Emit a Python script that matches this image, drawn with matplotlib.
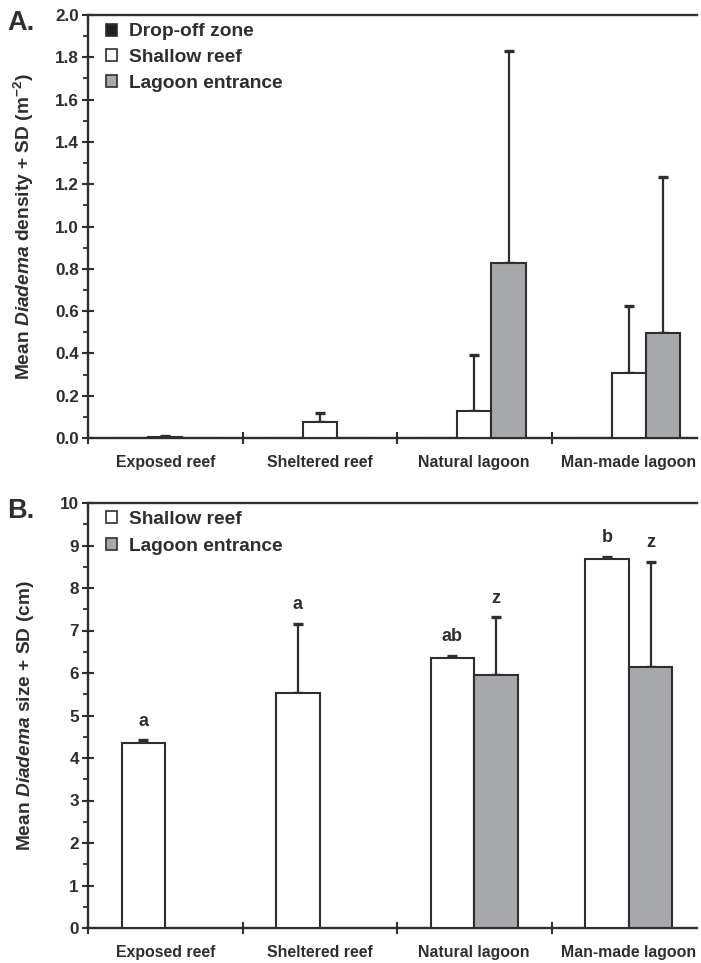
import numpy as np
import matplotlib
matplotlib.use("Agg")
import matplotlib.pyplot as plt
from matplotlib.patches import Patch

# ---------------- data ----------------
categories = ["Exposed reef", "Sheltered reef", "Natural lagoon", "Man-made lagoon"]

# Panel A: density (m^-2)
density_dropoff = [0.002, 0.0, 0.0, 0.002]
density_dropoff_sd = [0.0, 0.0, 0.0, 0.0]
density_shallow = [0.004, 0.077, 0.128, 0.306]
density_shallow_sd = [0.006, 0.040, 0.263, 0.318]
density_lagoon = [0.0, 0.0, 0.826, 0.495]
density_lagoon_sd = [0.0, 0.0, 1.005, 0.740]

# Panel B: size (cm)
size_shallow = [4.35, 5.53, 6.35, 8.69]
size_shallow_sd = [0.07, 1.63, 0.05, 0.05]
size_lagoon = [np.nan, np.nan, 5.96, 6.14]
size_lagoon_sd = [np.nan, np.nan, 1.35, 2.48]
sig_shallow = ["a", "a", "ab", "b"]
sig_lagoon = ["", "", "z", "z"]

# ---------------- style ----------------
plt.rcParams["font.family"] = ["Liberation Sans", "DejaVu Sans"]
plt.rcParams["font.weight"] = "bold"
plt.rcParams["mathtext.fontset"] = "custom"
plt.rcParams["mathtext.rm"] = "Liberation Sans:bold"
plt.rcParams["mathtext.it"] = "Liberation Sans:italic:bold"
plt.rcParams["mathtext.bf"] = "Liberation Sans:bold"

INK = "#2e2e2e"
GRAY = "#a7a8ab"
BLACK = "#231f20"
WHITE = "#ffffff"

W, H = 701, 963
fig = plt.figure(figsize=(W / 100, H / 100), dpi=100)
axA = fig.add_axes([88 / W, 1 - 438 / H, 609 / W, 423 / H])
axB = fig.add_axes([88 / W, 1 - 928 / H, 609 / W, 425 / H])

centers = np.arange(len(categories)) + 0.5
XMAX = 609 / 154.5


def style_axes(ax, ymax, major, minor, fmt):
    ax.set_xlim(0, XMAX)
    ax.set_ylim(0, ymax)
    for s in ["left", "bottom", "top"]:
        ax.spines[s].set_linewidth(1.7)
        ax.spines[s].set_color(INK)
    ax.spines["right"].set_visible(False)
    ax.set_yticks(np.arange(0, ymax + 1e-9, major))
    ax.set_yticks(np.arange(0, ymax + 1e-9, minor), minor=True)
    ax.set_yticklabels([fmt.format(v) for v in np.arange(0, ymax + 1e-9, major)])
    ax.tick_params(axis="y", which="major", direction="inout", length=9, width=1.5,
                   colors=INK, labelsize=12.3, pad=2)
    ax.tick_params(axis="y", which="minor", direction="out", length=3.5, width=1.3,
                   colors=INK)
    ax.set_xticks(np.arange(0, 4))
    ax.tick_params(axis="x", which="major", direction="inout", length=9, width=1.5,
                   colors=INK, labelbottom=False)
    ax.set_xticks(centers, categories, minor=True)
    ax.tick_params(axis="x", which="minor", length=0, pad=12.5, labelsize=11.4,
                   labelcolor=INK)


def draw_series(ax, xs, vals, sds, width, color):
    vals = np.asarray(vals, dtype=float)
    sds = np.asarray(sds, dtype=float)
    ok = ~np.isnan(vals)
    ax.bar(xs[ok], vals[ok], width=width, color=color, edgecolor=INK,
           linewidth=1.5, zorder=3)
    e = ok & ~np.isnan(sds) & (sds > 0)
    if e.any():
        ax.errorbar(xs[e], vals[e], yerr=[np.zeros(e.sum()), sds[e]], fmt="none",
                    ecolor=INK, elinewidth=1.6, capsize=3.3, capthick=2.4, zorder=2)


LEG_KW = dict(loc="upper left", frameon=False, fontsize=13.8, handlelength=0.58,
              handleheight=0.58, handletextpad=0.62, borderpad=0, borderaxespad=0)

# ---------------- Panel A ----------------
wA = 0.223
style_axes(axA, 2.0, 0.2, 0.1, "{:.1f}")
draw_series(axA, centers - wA, density_dropoff, density_dropoff_sd, wA, BLACK)
draw_series(axA, centers, density_shallow, density_shallow_sd, wA, WHITE)
draw_series(axA, centers + wA, density_lagoon, density_lagoon_sd, wA, GRAY)
axA.set_ylabel(r"Mean $\mathit{Diadema}$ density + SD (m$^{-2}$)", fontsize=13.8,
               color=INK, fontweight="bold")
axA.yaxis.set_label_coords(-0.085, 0.5)
hA = [Patch(facecolor=BLACK, edgecolor=INK, linewidth=1.2, label="Drop-off zone"),
      Patch(facecolor=WHITE, edgecolor=INK, linewidth=1.2, label="Shallow reef"),
      Patch(facecolor=GRAY, edgecolor=INK, linewidth=1.2, label="Lagoon entrance")]
legA = axA.legend(handles=hA, bbox_to_anchor=(0.03, 0.98), labelspacing=0.45, **LEG_KW)
for t in legA.get_texts():
    t.set_color(INK)

# ---------------- Panel B ----------------
wB = 0.282
style_axes(axB, 10, 1, 0.5, "{:.0f}")
draw_series(axB, centers - wB / 2, size_shallow, size_shallow_sd, wB, WHITE)
draw_series(axB, centers + wB / 2, size_lagoon, size_lagoon_sd, wB, GRAY)
for xs, vals, sds, sig in [(centers - wB / 2, size_shallow, size_shallow_sd, sig_shallow),
                           (centers + wB / 2, size_lagoon, size_lagoon_sd, sig_lagoon)]:
    for x, v, s, lab in zip(xs, vals, sds, sig):
        if lab and not np.isnan(v):
            axB.text(x, v + s + 0.45, lab, ha="center", va="center", fontsize=13,
                     fontweight="bold", color=INK)
axB.set_ylabel(r"Mean $\mathit{Diadema}$ size + SD (cm)", fontsize=13.8,
               color=INK, fontweight="bold")
axB.yaxis.set_label_coords(-0.085, 0.5)
hB = [Patch(facecolor=WHITE, edgecolor=INK, linewidth=1.2, label="Shallow reef"),
      Patch(facecolor=GRAY, edgecolor=INK, linewidth=1.2, label="Lagoon entrance")]
legB = axB.legend(handles=hB, bbox_to_anchor=(0.03, 0.982), labelspacing=0.52, **LEG_KW)
for t in legB.get_texts():
    t.set_color(INK)

# panel letters
fig.text(7 / W, 1 - 30 / H, "A.", fontsize=19.5, fontweight="bold", color=INK,
         ha="left", va="baseline")
fig.text(7 / W, 1 - 518 / H, "B.", fontsize=19.5, fontweight="bold", color=INK,
         ha="left", va="baseline")

fig.savefig("out.png", dpi=100)
